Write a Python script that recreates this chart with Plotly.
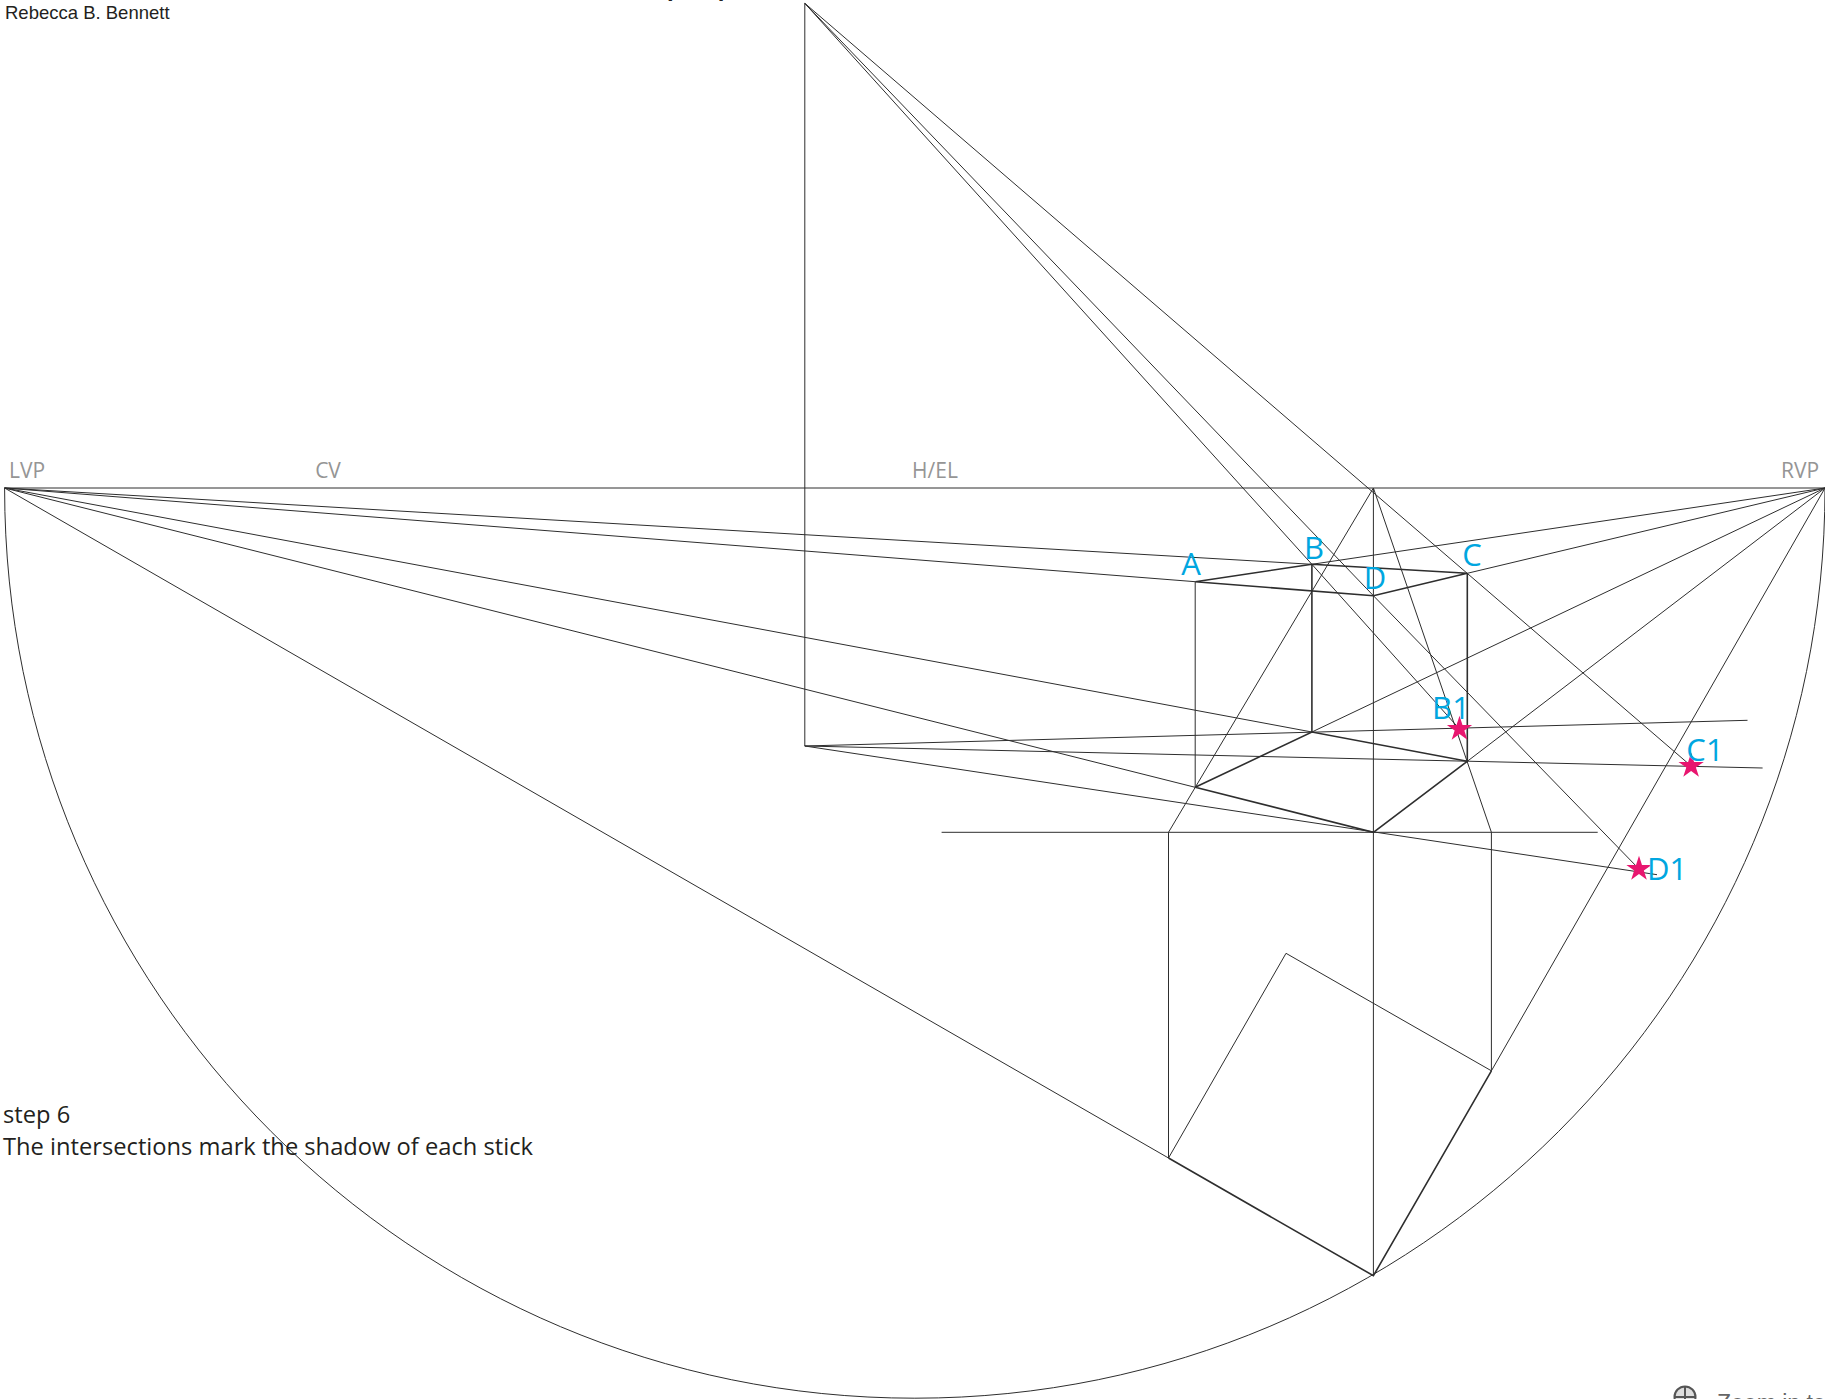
import plotly.graph_objects as go

# Vanishing points and construction points (x, y in page pixels)
LVP = (4.6, 488)
RVP = (1825, 488)
APEX = (804.8, 3.3)
BASE = (804.8, 746)
CENTER = (1373.4, 488)
BOTTOM = (1373.4, 1275.7)
A_TOP, A_BOT = (1195.2, 581.7), (1195.2, 787.3)
B_TOP, B_BOT = (1311.9, 564.3), (1311.9, 732)
C_TOP, C_BOT = (1467.3, 573.3), (1467.3, 761.3)
D_TOP, D_BOT = (1373.4, 595.7), (1373.4, 832.3)
B1 = (1459.5, 729)
C1 = (1691.1, 766)
D1 = (1639, 869)
B1_END = (1747.5, 720.3)
C1_END = (1762.6, 768)
D1_END = (1657, 874.7)
H_LEFT = (941.6, 832.3)
H_RIGHT = (1597.7, 832.3)
FOOT_L = (1168.5, 832.3)
FOOT_R = (1491.4, 832.3)
PLAN_L = (1168.5, 1158)
PLAN_T = (1286, 953.3)
PLAN_R = (1491.4, 1070.8)

thin_paths = [
    [LVP, RVP],
    [APEX, BASE],
    [LVP, B_TOP],
    [LVP, A_TOP],
    [LVP, B_BOT],
    [LVP, A_BOT],
    [LVP, PLAN_L],
    [RVP, C_TOP],
    [RVP, B_TOP],
    [RVP, B_BOT],
    [RVP, C_BOT],
    [RVP, PLAN_R],
    [APEX, B_TOP, B1],
    [APEX, C_TOP, C1],
    [APEX, D_TOP, D1],
    [CENTER, BOTTOM],
    [A_TOP, A_BOT],
    [CENTER, A_BOT, FOOT_L, PLAN_L],
    [PLAN_L, PLAN_T, PLAN_R, FOOT_R, CENTER],
    [H_LEFT, H_RIGHT],
    [BASE, B_BOT, B1_END],
    [BASE, C_BOT, C1_END],
    [BASE, D_BOT, D1_END],
]

heavy_paths = [
    [A_TOP, B_TOP, C_TOP, D_TOP, A_TOP],
    [B_TOP, B_BOT],
    [C_TOP, C_BOT],
    [A_BOT, B_BOT, C_BOT, D_BOT, A_BOT],
    [PLAN_L, BOTTOM, PLAN_R],
]

star_points = [B1, C1, D1]

blue_labels = ["A", "B", "C", "D", "B1", "C1", "D1"]
blue_x = [1191, 1314, 1472, 1375, 1451, 1705, 1667]
blue_y = [567, 551, 558, 581, 711, 753, 872]

grey_labels = ["LVP", "CV", "H/EL", "RVP"]
grey_x = [27, 328, 935, 1800]
grey_y = [472.5, 472.5, 472.5, 472.5]

ARC_CX, ARC_CY, ARC_R = 914.8, 488, 910.2
LINE = "#2e2e2e"

fig = go.Figure()

k = 0.5523 * ARC_R
x0, x1 = ARC_CX - ARC_R, ARC_CX + ARC_R
yb = ARC_CY + ARC_R
arc = (f"M {x0} {ARC_CY} C {x0} {ARC_CY+k} {ARC_CX-k} {yb} {ARC_CX} {yb} "
       f"C {ARC_CX+k} {yb} {x1} {ARC_CY+k} {x1} {ARC_CY}")
fig.add_shape(type="path", path=arc, line=dict(color=LINE, width=1), layer="below")

for path in thin_paths:
    fig.add_trace(go.Scatter(x=[p[0] for p in path], y=[p[1] for p in path], mode="lines",
                             line=dict(color=LINE, width=1), hoverinfo="skip", showlegend=False))
for path in heavy_paths:
    fig.add_trace(go.Scatter(x=[p[0] for p in path], y=[p[1] for p in path], mode="lines",
                             line=dict(color=LINE, width=1.6), hoverinfo="skip", showlegend=False))

fig.add_trace(go.Scatter(x=[p[0] for p in star_points], y=[p[1] for p in star_points], mode="markers",
                         marker=dict(symbol="star", size=19, color="#E8166F", line=dict(width=0)),
                         hoverinfo="skip", showlegend=False))

fig.add_trace(go.Scatter(x=blue_x, y=blue_y, text=blue_labels, mode="text",
                         textfont=dict(family="Open Sans", size=31, color="#00A6E0"),
                         hoverinfo="skip", showlegend=False))
fig.add_trace(go.Scatter(x=grey_x, y=grey_y, text=grey_labels, mode="text",
                         textfont=dict(family="Open Sans", size=21, color="#959595"),
                         hoverinfo="skip", showlegend=False))

fig.add_trace(go.Scatter(x=[1685], y=[1397], mode="markers",
                         marker=dict(symbol="circle-cross", size=21, color="#dddddd",
                                     line=dict(color="#555555", width=2)),
                         hoverinfo="skip", showlegend=False))

def note(text, x, y, family, size, color="#231f20", yanchor="middle"):
    fig.add_annotation(x=x, y=y, xref="x", yref="y", text=text, showarrow=False, xanchor="left",
                       yanchor=yanchor, font=dict(family=family, size=size, color=color))

note("Rebecca B. Bennett", 3, 12, "Liberation Sans", 18.5)
note("step 6", 1, 1114, "Open Sans", 23.7)
note("The intersections mark the shadow of each stick", 1, 1146, "Open Sans", 23.7)
note("<b>perspective</b>", 665, 3, "Liberation Sans", 24, yanchor="bottom")
note("Zoom in to", 1715, 1388, "Liberation Sans", 23, color="#666666", yanchor="top")

fig.update_layout(
    width=1825, height=1399, margin=dict(l=0, r=0, t=0, b=0),
    paper_bgcolor="white", plot_bgcolor="white", showlegend=False,
    xaxis=dict(range=[0, 1825], visible=False, fixedrange=True),
    yaxis=dict(range=[1399, 0], visible=False, fixedrange=True),
)
fig.write_html("out.html", config=dict(displayModeBar=False),
               post_script="document.body.style.margin='0';document.documentElement.style.overflow='hidden';")
